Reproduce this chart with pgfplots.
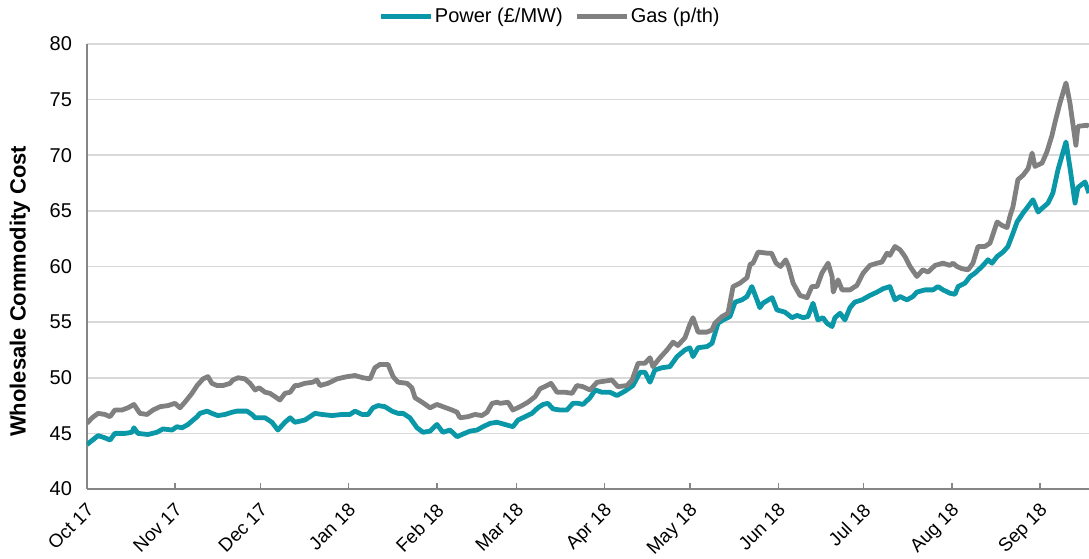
\documentclass[border=0pt]{standalone}
\usepackage{pgfplots}
\pgfplotsset{compat=1.18}
\usepackage{fontspec}
\setmainfont{Liberation Sans}
\definecolor{powerc}{HTML}{0A97A8}
\definecolor{gasc}{HTML}{808080}
\definecolor{gridc}{HTML}{D9D9D9}
\definecolor{axc}{HTML}{868686}
\begin{document}
\begin{tikzpicture}
\begin{axis}[name=ax,
  scale only axis, width=501pt, height=222.5pt,
  xmin=0, xmax=352.2, ymin=40, ymax=80,
  axis x line*=bottom, axis y line*=left,
  axis line style={draw=axc, line width=0.7pt},
  xtick={0,31,61,92,123,151,182,212,243,273,304,335},
  xticklabels={Oct 17,Nov 17,Dec 17,Jan 18,Feb 18,Mar 18,Apr 18,May 18,Jun 18,Jul 18,Aug 18,Sep 18},
  x tick style={draw=axc, line width=0.7pt},
  tick align=inside, major tick length=3pt,
  ytick={40,45,...,80}, y tick style={draw=none},
  ymajorgrids, grid style={draw=gridc, line width=0.8pt},
  xticklabel style={rotate=45, anchor=north east, font=\fontsize{9.4}{11}\selectfont, inner sep=0.5pt, xshift=-4.5pt, yshift=-3.5pt},
  yticklabel style={font=\fontsize{10}{12}\selectfont, xshift=-4pt},
  /pgf/number format/assume math mode=true,
  ylabel={\textbf{Wholesale Commodity Cost}},
  ylabel style={at={(axis description cs:-0.067,0.444)}, anchor=center, font=\fontsize{11}{13}\selectfont},
  legend columns=2,
  legend style={draw=none, fill=none, at={(axis description cs:0.462,1.061)}, anchor=center,
    font=\fontsize{10}{12}\selectfont, nodes={inner xsep=0.8pt},
    /tikz/every even column/.append style={column sep=5pt}},
  legend image code/.code={\draw[#1] (0pt,0pt) -- (25pt,0pt);},
  every axis plot/.append style={line width=2.4pt, line join=round, no markers},
  clip=true,
]
\addplot[color=powerc] coordinates {
(0,44.0)(3.9,44.8)(6.3,44.6)(8.1,44.4)(9.8,45.0)(13.4,45.0)(15.8,45.1)(16.5,45.5)(17.9,45.0)(21.4,44.9)
(24.6,45.1)(26.7,45.4)(29.9,45.3)(31.6,45.6)(33.4,45.5)(35.5,45.8)(38.7,46.5)(39.7,46.8)(42.2,47.0)(43.9,46.8)
(46.0,46.6)(48.5,46.7)(51.0,46.9)(52.7,47.0)(56.2,47.0)(58.0,46.7)(59.1,46.4)(62.6,46.4)(65.0,46.0)(67.1,45.3)
(69.6,46.0)(71.4,46.4)(73.1,46.0)(76.6,46.2)(78.4,46.5)(80.1,46.8)(82.6,46.7)(86.1,46.6)(89.6,46.7)(92.4,46.7)
(94.2,47.0)(96.7,46.7)(98.8,46.7)(100.5,47.3)(102.3,47.5)(104.7,47.4)(107.2,47.0)(109.3,46.8)(111.1,46.8)(113.5,46.4)
(116.0,45.5)(118.1,45.1)(120.6,45.2)(123.0,45.8)(125.1,45.1)(127.6,45.3)(130.1,44.7)(131.8,44.9)(134.6,45.2)(137.1,45.3)
(139.2,45.6)(141.7,45.9)(144.1,46.0)(146.9,45.8)(149.7,45.6)(151.5,46.2)(154.0,46.5)(156.4,46.8)(158.5,47.3)(160.3,47.6)
(162.0,47.7)(163.8,47.2)(166.3,47.1)(168.7,47.1)(170.8,47.7)(172.6,47.7)(174.3,47.6)(176.8,48.2)(178.6,48.9)(181.0,48.7)
(183.8,48.7)(186.3,48.4)(189.1,48.8)(191.9,49.3)(194.4,50.5)(196.1,50.5)(197.9,49.6)(199.6,50.7)(202.1,50.9)(204.9,51.0)
(207.4,51.9)(210.2,52.5)(211.9,52.7)(213.0,51.9)(214.8,52.7)(217.9,52.8)(219.7,53.1)(221.8,54.9)(223.6,55.2)(226.0,55.5)
(227.8,56.8)(230.2,57.0)(232.0,57.3)(233.7,58.2)(235.5,57.0)(236.5,56.3)(237.6,56.7)(240.8,57.2)(242.5,56.1)(245.3,55.9)
(247.8,55.4)(249.6,55.6)(251.7,55.4)(253.4,55.5)(255.2,56.7)(256.9,55.2)(258.7,55.4)(260.1,54.9)(261.9,54.6)(262.9,55.4)
(264.7,55.8)(266.4,55.2)(268.2,56.3)(269.9,56.8)(272.4,57.0)(275.2,57.4)(277.7,57.7)(279.8,58.0)(282.2,58.2)(284.0,57.0)
(285.8,57.3)(288.2,57.0)(290.3,57.3)(291.7,57.7)(294.6,57.9)(297.4,57.9)(299.1,58.2)(300.9,57.9)(303.3,57.6)(305.1,57.5)
(306.2,58.2)(308.6,58.5)(310.4,59.1)(312.1,59.4)(314.6,60.0)(316.7,60.6)(318.1,60.3)(319.9,60.9)(322.0,61.3)(323.7,61.8)
(325.5,63.0)(326.9,64.0)(329.0,64.8)(330.8,65.4)(332.5,66.0)(334.3,64.9)(336.0,65.3)(337.8,65.7)(339.5,66.6)(341.3,68.7)
(344.1,71.2)(345.5,68.9)(347.3,65.7)(348.3,67.1)(350.8,67.6)(352.2,66.6)
};
\addlegendentry{Power (£/MW)}
\addplot[color=gasc] coordinates {
(0,45.9)(1.8,46.4)(3.9,46.8)(6.3,46.7)(8.1,46.5)(9.8,47.1)(12.3,47.1)(14.4,47.3)(16.5,47.6)(18.6,46.8)
(21.1,46.7)(23.2,47.1)(25.7,47.4)(28.5,47.5)(30.9,47.7)(32.7,47.3)(34.4,47.8)(36.9,48.6)(38.7,49.3)(40.8,49.9)
(42.5,50.1)(43.9,49.5)(45.7,49.3)(47.8,49.3)(50.3,49.5)(51.3,49.8)(53.1,50.0)(55.5,49.9)(57.3,49.5)(59.1,48.9)
(60.5,49.1)(62.6,48.7)(64.3,48.6)(66.1,48.3)(67.8,48.0)(69.6,48.6)(71.4,48.7)(73.1,49.3)(74.2,49.3)(76.6,49.5)
(79.4,49.6)(80.8,49.8)(81.9,49.3)(84.7,49.5)(87.9,49.9)(91.4,50.1)(94.2,50.2)(97.0,50.0)(99.5,49.9)(101.2,50.9)
(103.0,51.2)(105.8,51.2)(107.6,50.1)(109.3,49.6)(112.5,49.5)(114.2,49.1)(115.3,48.2)(117.8,47.8)(120.6,47.3)(123.0,47.6)
(125.1,47.4)(128.3,47.1)(130.1,46.9)(131.1,46.4)(133.9,46.5)(136.4,46.7)(138.8,46.6)(140.6,46.9)(142.4,47.7)(144.1,47.8)
(145.2,47.7)(148.0,47.8)(149.7,47.1)(152.2,47.4)(155.0,47.8)(157.5,48.3)(159.2,49.0)(161.7,49.3)(163.1,49.5)(165.2,48.7)
(168.0,48.7)(170.5,48.6)(172.2,49.3)(174.3,49.2)(176.8,48.9)(179.3,49.6)(182.1,49.7)(184.5,49.8)(186.6,49.2)(189.8,49.3)
(191.6,49.8)(193.7,51.3)(196.1,51.3)(197.9,51.8)(198.9,51.0)(201.4,51.8)(203.9,52.5)(206.0,53.2)(207.7,52.9)(210.2,53.6)
(211.9,54.8)(213.0,55.4)(214.8,54.1)(217.9,54.1)(219.7,54.3)(220.7,54.9)(223.2,55.5)(225.3,55.8)(227.1,58.2)(229.5,58.5)
(232.0,59.0)(233.1,60.2)(234.1,60.3)(235.9,61.3)(239.0,61.2)(240.6,61.2)(242.2,60.3)(243.8,60.0)(245.6,60.6)(246.6,60.0)
(248.2,58.5)(250.6,57.4)(253.1,57.2)(254.8,58.2)(256.6,58.2)(258.3,59.4)(260.5,60.3)(261.9,59.1)(262.3,57.7)(264.0,58.8)
(265.4,57.9)(268.2,57.9)(270.6,58.3)(272.8,59.4)(275.2,60.1)(277.7,60.3)(279.4,60.4)(281.2,61.2)(282.2,61.0)(284.0,61.8)
(285.8,61.5)(287.5,60.9)(289.3,60.0)(291.7,59.1)(293.8,59.7)(295.6,59.5)(298.1,60.1)(300.9,60.3)(303.3,60.1)(304.4,60.3)
(305.8,60.0)(307.6,59.8)(309.7,59.7)(311.4,60.3)(313.2,61.8)(315.6,61.8)(317.4,62.1)(319.9,64.0)(321.6,63.7)(323.4,63.5)
(324.4,64.5)(325.5,65.4)(327.2,67.8)(329.0,68.2)(330.8,68.8)(332.2,70.2)(333.2,69.0)(335.7,69.3)(337.4,70.3)(339.2,71.8)
(340.2,72.9)(342.0,74.7)(344.1,76.5)(345.5,74.7)(346.6,72.7)(347.6,70.9)(348.3,72.6)(351.5,72.7)(352.2,72.6)
};
\addlegendentry{Gas (p/th)}
\end{axis}
\pgfresetboundingbox
\path ([shift={(-43.5pt,-34.5pt)}]ax.south west) rectangle ([shift={(0pt,22pt)}]ax.north east);
\end{tikzpicture}
\end{document}
